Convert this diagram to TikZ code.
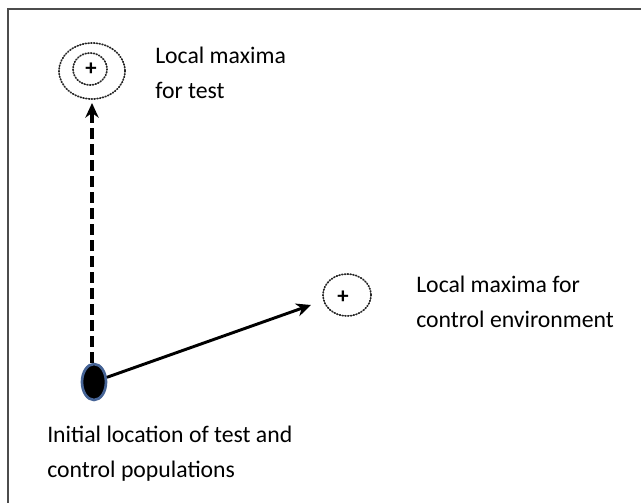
\documentclass[tikz,border=0pt]{standalone}
\usepackage{fontspec}
\setmainfont{Carlito}
\usetikzlibrary{arrows.meta,shapes.geometric}
\definecolor{rimblue}{RGB}{70,100,150}
\begin{document}
\begin{tikzpicture}[x=0.75pt,y=-0.75pt,
  lbl/.style={anchor=north west,align=left,inner sep=0pt,font=\fontsize{17.8}{26}\selectfont},
  dotring/.style={draw,line width=1.3pt,dash pattern=on 0.7pt off 1.4pt,line cap=round,black!85},
  plusmark/.style={inner sep=0pt,font=\fontsize{17}{17}\selectfont\bfseries}]
\useasboundingbox (0,0) rectangle (641,503);
% frame
\draw[line width=1.4pt,black!70] (641,9) -- (8,9) -- (8,503);
% test maxima
\draw[dotring] (92,71) ellipse [x radius=33,y radius=28];
\draw[dotring] (90,69) ellipse [x radius=17,y radius=16];
\node[plusmark] (ptest) at (91,69) {+};
% control maxima
\draw[dotring] (347,295) ellipse [x radius=24,y radius=21];
\node[plusmark] (pctrl) at (343,297) {+};
% initial
\node[ellipse,fill=black,draw=rimblue,line width=2pt,minimum width=18pt,minimum height=27pt,inner sep=0pt] (init) at (94,382) {};
\coordinate (tipT) at (92,103);
\coordinate (tipC) at (311,305);
\draw[line width=2.4pt,dash pattern=on 8pt off 4pt,-{Stealth[length=11pt,width=10pt]}] (init.north -| tipT) -- (tipT);
\draw[line width=2.2pt,-{Stealth[length=11pt,width=10pt]}] (init.20) -- (tipC);
% labels
\node[lbl] (ltest) at (155,47) {Local maxima\\for test};
\node[lbl] (lctrl) at (416,276) {Local maxima for\\control environment};
\node[lbl] (linit) at (47,426) {Initial location of test and\\control populations};
\end{tikzpicture}
\end{document}
